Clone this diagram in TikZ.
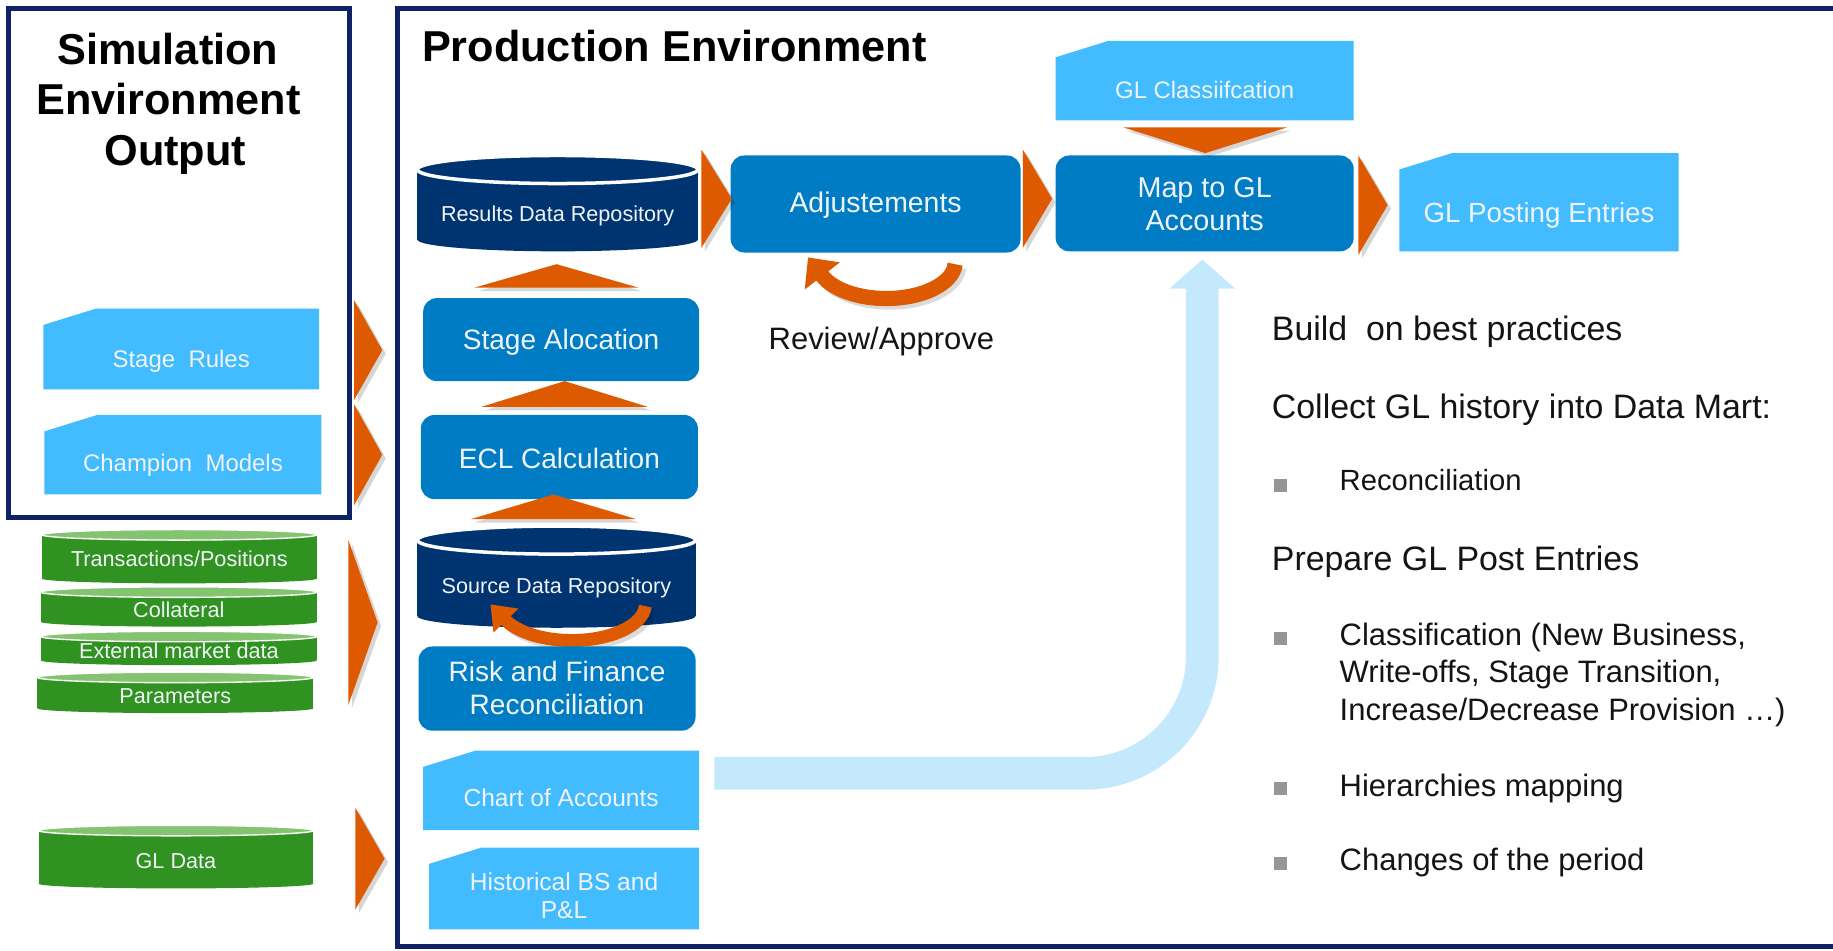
\documentclass[tikz,border=0pt]{standalone}
\usepackage{fontspec}
\setmainfont{Liberation Sans}
\usetikzlibrary{calc,fit,arrows.meta}

\definecolor{framenavy}{RGB}{14,34,102}
\definecolor{cylnavy}{RGB}{0,52,112}
\definecolor{boxblue}{RGB}{0,124,196}
\definecolor{folderblue}{RGB}{66,188,255}
\definecolor{flow}{RGB}{222,90,0}
\definecolor{pale}{RGB}{196,232,252}
\definecolor{dgreen}{RGB}{48,146,32}
\definecolor{lgreen}{RGB}{132,196,112}
\definecolor{bulletgray}{RGB}{150,150,150}
\definecolor{ink}{RGB}{20,20,20}
\definecolor{labelwhite}{RGB}{240,244,248}

% font size given in drawing units (1 unit = 0.6pt)
\newcommand\fpx[1]{\fontsize{\fpeval{#1*0.6}pt}{\fpeval{#1*0.72}pt}\selectfont}

% tab-like box with a clipped top-left corner: name, x1, y1, x2, y2
\newcommand\foldershape[5]{%
  \fill[folderblue] (#2,#3+14) -- (#2+45,#3) -- (#4,#3) -- (#4,#5) -- (#2,#5) -- cycle;
  \node[fit={(#2,#3)(#4,#5)}] (#1) {};}

% dark repository drum: name, x1, y1, x2, y2
\newcommand\navycyl[5]{%
  \fill[cylnavy] (#2,#3+12) rectangle (#4,#5-10);
  \fill[cylnavy] ({(#2+#4)/2},#5-10) ellipse[x radius={(#4-#2)/2}, y radius=10];
  \draw[white,line width=1.8pt,fill=cylnavy] ({(#2+#4)/2},#3+12) ellipse[x radius={(#4-#2)/2}, y radius=12];
  \node[fit={(#2,#3)(#4,#5)}] (#1) {};}

% flat green data drum: name, x1, y1, x2, y2
\newcommand\greencyl[5]{%
  \fill[dgreen] (#2,#3+4.5) rectangle (#4,#5-4);
  \fill[dgreen] ({(#2+#4)/2},#5-4) ellipse[x radius={(#4-#2)/2}, y radius=4];
  \draw[white,line width=0.7pt,fill=lgreen] ({(#2+#4)/2},#3+4.5) ellipse[x radius={(#4-#2)/2}, y radius=4.5];
  \node[fit={(#2,#3)(#4,#5)}] (#1) {};}

% right-pointing flow wedge: x back, y top, y bottom, x tip
\newcommand\wedgeright[4]{%
  \fill[black,opacity=.16] (#1+3,#2+3) -- (#4+3,{(#2+#3)/2+3}) -- (#1+3,#3+3) -- cycle;
  \fill[flow] (#1,#2) -- (#4,{(#2+#3)/2}) -- (#1,#3) -- cycle;}

% vertical flow wedge: x left, x right, y base, y tip
\newcommand\wedgevert[4]{%
  \fill[black,opacity=.16] (#1+3,#3+3) -- (#2+3,#3+3) -- ({(#1+#2)/2+3},#4+3) -- cycle;
  \fill[flow] (#1,#3) -- (#2,#3) -- ({(#1+#2)/2},#4) -- cycle;}

\begin{document}
\begin{tikzpicture}[x=0.6pt, y=-0.6pt,
  every node/.style={inner sep=0pt, outer sep=0pt},
  rbox/.style={fill=boxblue, rounded corners=7pt},
  lbl/.style={text=labelwhite, anchor=base},
  head/.style={text=ink, anchor=base west, font=\fpx{29}},
  body/.style={text=ink, anchor=base west, font=\fpx{26.5}},
  bsq/.style={fill=bulletgray, minimum width=6.6pt, minimum height=6.6pt},
  title/.style={text=black, font=\bfseries\fpx{37}},
  feed/.style={draw=pale, line width=16.8pt, rounded corners=60pt,
    -{Triangle[length=15pt,width=33pt]}},
  ]
\useasboundingbox (0,0) rectangle (1568,813);

% environment frames
\draw[framenavy, line width=2.6pt] (7,7) rectangle (299,443);
\draw[framenavy, line width=2.6pt] (340,7) rectangle (1600,810);

% titles
\node[title, anchor=base] (simt1) at (143.5,55) {Simulation};
\node[title, anchor=base] (simt2) at (144,98) {Environment};
\node[title, anchor=base] (simt3) at (150,142) {Output};
\node[title, anchor=base west] (prodt) at (361,53) {Production Environment};

% simulation outputs
\foldershape{sr}{37}{264}{273}{333}
\node[lbl, font=\fpx{20.5}] (srt) at ($(sr.center)+(0,15.5)$) {Stage\ \ Rules};
\foldershape{cm}{38}{355}{275}{423}
\node[lbl, font=\fpx{20.5}] (cmt) at ($(cm.center)+(0,14.6)$) {Champion\ \ Models};

% source data drums
\greencyl{tp}{36}{453}{271}{499}
\node[lbl, font=\fpx{18.5}] (tpt) at ($(tp.center)+(0,9)$) {Transactions/Positions};
\greencyl{col}{35}{502}{271}{536}
\node[lbl, font=\fpx{18.5}] (colt) at ($(col.center)+(0,9.6)$) {Collateral};
\greencyl{ext}{35}{540}{271}{569}
\node[lbl, font=\fpx{18.5}] (extt) at ($(ext.center)+(0,8.5)$) {External market data};
\greencyl{par}{32}{575}{268}{610}
\node[lbl, font=\fpx{18.5}] (part) at ($(par.center)+(0,9.5)$) {Parameters};
\greencyl{gld}{33}{706}{268}{760}
\node[lbl, font=\fpx{18.5}] (gldt) at ($(gld.center)+(0,9.6)$) {GL Data};

% inputs into production
\wedgeright{303}{257}{342}{327}
\wedgeright{303}{346}{432}{327}
\wedgeright{298}{462}{603}{323}
\wedgeright{304}{691}{778}{329}

% production pipeline
\navycyl{res}{357}{133}{597}{215}
\node[lbl, font=\fpx{18.5}] (rest) at ($(res.center)+(0,15.6)$) {Results Data Repository};
\node[rbox, fit={(362,255)(598,326)}] (stage) {};
\node[lbl, font=\fpx{24}] (staget) at ($(stage.center)+(0,8.3)$) {Stage Alocation};
\node[rbox, fit={(360,355)(597,427)}] (ecl) {};
\node[lbl, font=\fpx{24}] (eclt) at ($(ecl.center)+(0,9.5)$) {ECL Calculation};
\navycyl{src}{357}{450}{595}{537}
\node[lbl, font=\fpx{18.5}] (srct) at ($(src.center)+(0,14)$) {Source Data Repository};
% reconciliation loop on the source drum
\begin{scope}[shift={(3,3)}]
  \draw[black, opacity=.14, line width=6.6pt] (552,518.5) arc[start angle=3, end angle=155, x radius=63, y radius=31];
\end{scope}
\draw[flow, line width=6.6pt, -{Triangle[length=11.5pt,width=17pt]}]
  (552,518.5) arc[start angle=3, end angle=155, x radius=63, y radius=31] -- ++(-12.4,-13);
\node[rbox, fit={(358,553)(595,625)}] (rfr) {};
\node[lbl, font=\fpx{24}] (rfrt1) at ($(rfr.center)+(0,-6)$) {Risk and Finance};
\node[lbl, font=\fpx{24}] (rfrt2) at ($(rfr.center)+(0,22.6)$) {Reconciliation};
\foldershape{coa}{362}{642}{598}{710}
\node[lbl, font=\fpx{21}] (coat) at ($(coa.center)+(0,14)$) {Chart of Accounts};
\foldershape{hist}{367}{725}{598}{795}
\node[lbl, font=\fpx{21}] (histt1) at ($(hist.center)+(0,1.5)$) {Historical BS and};
\node[lbl, font=\fpx{21}] (histt2) at ($(hist.center)+(0,26)$) {P\&L};

\wedgevert{406}{546}{246}{226}
\wedgevert{412}{554}{348}{326}
\wedgevert{403}{544}{444}{423}

% review loop under the adjustments step
\begin{scope}[shift={(3,3)}]
  \draw[black, opacity=.14, line width=7.8pt] (817,226) arc[start angle=3, end angle=158, x radius=59, y radius=31];
\end{scope}
\draw[flow, line width=7.8pt, -{Triangle[length=12pt,width=22pt]}]
  (817,226) arc[start angle=3, end angle=158, x radius=59, y radius=31] -- ++(-12.2,-15.8);
\node[rbox, fit={(625,133)(873,216)}] (adj) {};
\node[lbl, font=\fpx{24.3}] (adjt) at ($(adj.center)+(0,7.5)$) {Adjustements};
\node[text=ink, font=\fpx{26.5}, anchor=base] (rv) at (754,299) {Review/Approve};

\node[rbox, fit={(903,133)(1158,215)}] (map) {};
\node[lbl, font=\fpx{24.6}] (mapt1) at ($(map.center)+(0,-5)$) {Map to GL};
\node[lbl, font=\fpx{24.6}] (mapt2) at ($(map.center)+(0,23.6)$) {Accounts};
\foldershape{glc}{903}{35}{1158}{103}
\node[lbl, font=\fpx{20.4}] (glct) at ($(glc.center)+(0,15)$) {GL\ Classiifcation};
\foldershape{glp}{1197}{131}{1436}{215}
\node[lbl, font=\fpx{23.7}] (glpt) at ($(glp.center)+(0,17.5)$) {GL Posting Entries};

\wedgeright{600}{128}{212}{626}
\wedgeright{875}{128}{212}{900}
\wedgeright{1162}{133}{218}{1187}
\wedgevert{961}{1101}{109}{131}

% chart of accounts feeding the GL mapping
\draw[feed] ($(coa.east)+(13,-14.5)$) -| ($(map.south)+(-2,7)$);

% notes
\node[head] (n1) at (1088,291) {Build\ \ on best practices};
\node[head] (n2) at (1088,358) {Collect GL history into Data Mart:};
\node[bsq] (b1) at (1095.5,415.5) {};
\node[body, font=\fpx{25}] (n3) at (1146,420) {Reconciliation};
\node[head] (n4) at (1088,488) {Prepare GL Post Entries};
\node[bsq] (b2) at (1095.5,546) {};
\node[body] (n5) at (1146,552) {Classification (New Business,};
\node[body] (n6) at (1146,584) {Write-offs, Stage Transition,};
\node[body] (n7) at (1146,616) {Increase/Decrease Provision \dots)};
\node[bsq] (b3) at (1095.5,674.5) {};
\node[body] (n8) at (1146,681) {Hierarchies mapping};
\node[bsq] (b4) at (1095.5,738.5) {};
\node[body] (n9) at (1146,745) {Changes of the period};
\end{tikzpicture}
\end{document}
